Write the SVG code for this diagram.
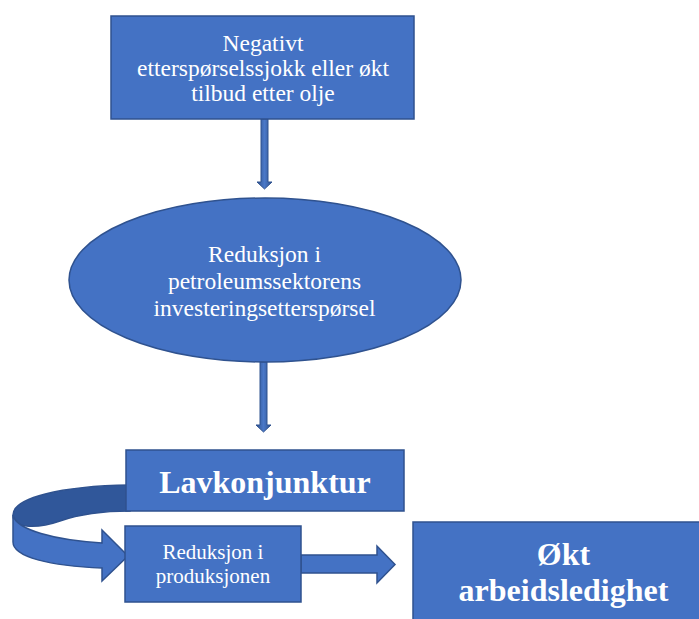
<svg xmlns="http://www.w3.org/2000/svg" width="699" height="619" viewBox="0 0 699 619">
<defs>
<linearGradient id="vg" x1="0" y1="0" x2="1" y2="0">
<stop offset="0" stop-color="#2F528F"/>
<stop offset="0.5" stop-color="#4A78C8"/>
<stop offset="1" stop-color="#2F528F"/>
</linearGradient>
<style>
.box{fill:#4472C4;stroke:#2F528F;stroke-width:1.5}
.t{font-family:"Liberation Serif","Times New Roman",serif;fill:#fff;text-anchor:middle}
.n{font-size:23.5px}
.b{font-weight:bold}
.va{fill:url(#vg);stroke:#2F528F;stroke-width:1}
</style>
</defs>
<rect width="699" height="619" fill="#fff"/>
<g id="connectors">
<path class="va" d="M261,119 L268,119 L268,182 L272,182 L264.5,189 L257,182 L261,182 Z"/>
<path class="va" d="M260,362 L267,362 L267,425 L271,425 L263.5,432 L256,425 L260,425 Z"/>
<path d="M130,485 C 60,486 13,498 13,515 C 13,530 40,528 60,521 C 80,514 105,511 130,511 Z" fill="#30579A" stroke="#2F528F" stroke-width="1.5"/>
<path d="M13,515 C 16,530 55,540 102,543 L102,530 L128,556 L102,581 L102,568 C 50,566 13,557 13,542 Z" fill="#4472C4" stroke="#2F528F" stroke-width="1.5"/>
<path d="M301,555 L377,555 L377,546 L395,564.5 L377,583 L377,573 L301,573 Z" fill="#4472C4" stroke="#2F528F" stroke-width="1.5"/>
</g>
<g id="n1">
<rect class="box" x="111" y="16" width="303" height="103"/>
<text class="t n" x="263" y="51">Negativt</text>
<text class="t n" x="263" y="76">etterspørselssjokk eller økt</text>
<text class="t n" x="263" y="101">tilbud etter olje</text>
</g>
<g id="n2">
<ellipse class="box" cx="265" cy="280" rx="196" ry="82"/>
<text class="t n" x="264.5" y="262">Reduksjon i</text>
<text class="t n" x="264.5" y="289">petroleumssektorens</text>
<text class="t n" x="264.5" y="316">investeringsetterspørsel</text>
</g>
<g id="n3">
<rect class="box" x="126" y="450" width="278" height="61"/>
<text class="t b" x="265" y="493" font-size="32">Lavkonjunktur</text>
</g>
<g id="n4">
<rect class="box" x="125" y="526" width="176" height="76"/>
<text class="t" x="213" y="559" font-size="21">Reduksjon i</text>
<text class="t" x="213" y="583" font-size="21">produksjonen</text>
</g>
<g id="n5">
<rect class="box" x="413" y="522" width="300" height="110"/>
<text class="t b" x="563.5" y="565" font-size="32">Økt</text>
<text class="t b" x="563.5" y="601" font-size="32">arbeidsledighet</text>
</g>
</svg>
